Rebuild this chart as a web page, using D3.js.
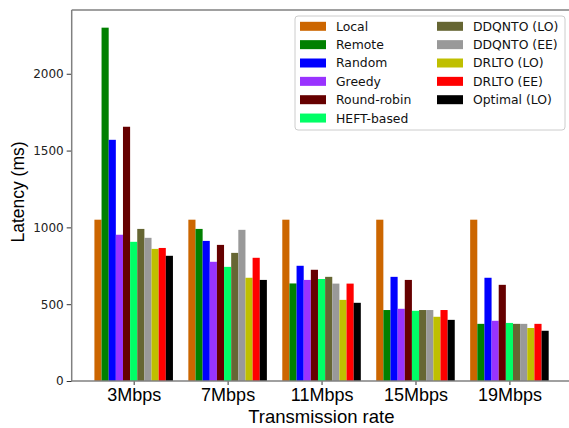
<!DOCTYPE html>
<html>
<head>
<meta charset="utf-8">
<script src="https://cdn.jsdelivr.net/npm/d3@7"></script>
<style>
  html, body { margin: 0; padding: 0; background: #fff; }
  svg { display: block; }
</style>
</head>
<body>
<svg id="chart" width="569" height="428"></svg>
<script>
const categories = ["3Mbps", "7Mbps", "11Mbps", "15Mbps", "19Mbps"];
const seriesNames = ["Local", "Remote", "Random", "Greedy", "Round-robin", "HEFT-based",
  "DDQNTO (LO)", "DDQNTO (EE)", "DRLTO (LO)", "DRLTO (EE)", "Optimal (LO)"];
const seriesColors = ["#cc6600", "#008000", "#0000ff", "#9933ff", "#660000", "#00ff66",
  "#666633", "#999999", "#bfbf00", "#ff0000", "#000000"];

const local      = [1050, 1050, 1050, 1050, 1050];
const remote     = [2300, 990, 635, 462, 372];
const random     = [1570, 912, 750, 678, 672];
const greedy     = [952, 776, 658, 470, 392];
const roundRobin = [1655, 886, 724, 658, 626];
const heft       = [906, 743, 664, 457, 378];
const ddqntoLO   = [990, 834, 678, 462, 372];
const ddqntoEE   = [932, 984, 634, 462, 372];
const drltoLO    = [860, 672, 528, 418, 345];
const drltoEE    = [866, 802, 634, 462, 372];
const optimalLO  = [815, 658, 509, 398, 327];
const seriesValues = [local, remote, random, greedy, roundRobin, heft,
  ddqntoLO, ddqntoEE, drltoLO, drltoEE, optimalLO];

const yTicks = [0, 500, 1000, 1500, 2000];
const yMax = 2415;
const barW = 0.076;

const svg = d3.select("#chart");
const mLeft = 71.7, mRight = 571.4, mTop = 10, mBottom = 381;

const nS = seriesNames.length;
const span = (categories.length - 1) + nS * barW;
const xMin = -nS * barW / 2 - 0.05 * span;
const xMax = (categories.length - 1) + nS * barW / 2 + 0.05 * span;

const x = d3.scaleLinear().domain([xMin, xMax]).range([mLeft, mRight]);
const y = d3.scaleLinear().domain([0, yMax]).range([mBottom, mTop]);

// bars
seriesNames.forEach((name, s) => {
  svg.append("g").selectAll("rect")
    .data(seriesValues[s])
    .join("rect")
    .attr("x", (d, i) => x(i + (s - (nS - 1) / 2) * barW - barW / 2))
    .attr("width", x(barW) - x(0))
    .attr("y", d => y(d))
    .attr("height", d => y(0) - y(d))
    .attr("fill", seriesColors[s]);
});

// y axis
const yAxis = d3.axisLeft(y).tickValues(yTicks).tickFormat(d3.format("d")).tickSize(5).tickPadding(3);
const gy = svg.append("g").attr("transform", `translate(${mLeft},0)`).call(yAxis);
gy.select(".domain").remove();
gy.selectAll(".tick line").attr("stroke", "#333").attr("stroke-width", 1);
gy.selectAll(".tick text").attr("font-family", "DejaVu Sans").attr("font-size", 12).attr("fill", "#222");

// x axis
const xAxis = d3.axisBottom(x).tickValues(d3.range(categories.length))
  .tickFormat(i => categories[i]).tickSize(4).tickPadding(3);
const gx = svg.append("g").attr("transform", `translate(0,${mBottom})`).call(xAxis);
gx.select(".domain").remove();
gx.selectAll(".tick line").attr("stroke", "#333").attr("stroke-width", 1);
gx.selectAll(".tick text").attr("font-family", "Liberation Sans").attr("font-size", 18).attr("fill", "#000");

// spines
const spine = svg.append("g").attr("stroke", "#808080").attr("stroke-width", 1.5).attr("fill", "none");
spine.append("line").attr("x1", mLeft).attr("x2", mLeft).attr("y1", mTop).attr("y2", mBottom);
spine.append("line").attr("x1", mLeft).attr("x2", mRight).attr("y1", mTop).attr("y2", mTop);
spine.append("line").attr("x1", mLeft).attr("x2", mRight).attr("y1", mBottom).attr("y2", mBottom);
spine.append("line").attr("x1", mRight).attr("x2", mRight).attr("y1", mTop).attr("y2", mBottom);

// axis labels
svg.append("text").attr("x", (mLeft + 569) / 2 + 1).attr("y", 423)
  .attr("text-anchor", "middle").attr("font-family", "Liberation Sans").attr("font-size", 18.5)
  .text("Transmission rate");
svg.append("text").attr("transform", `translate(24,192) rotate(-90)`)
  .attr("text-anchor", "middle").attr("font-family", "Liberation Sans").attr("font-size", 17.5)
  .text("Latency (ms)");

// legend
const lg = svg.append("g");
lg.append("rect").attr("x", 295).attr("y", 16).attr("width", 270).attr("height", 114)
  .attr("rx", 3).attr("fill", "#fff").attr("fill-opacity", 0.9).attr("stroke", "#cccccc").attr("stroke-width", 1);
seriesNames.forEach((name, s) => {
  const col = s < 6 ? 0 : 1;
  const row = s < 6 ? s : s - 6;
  const px = col === 0 ? 300 : 437;
  const cy = 26.3 + row * 18.35;
  lg.append("rect").attr("x", px).attr("y", cy - 4.5).attr("width", 26).attr("height", 9)
    .attr("fill", seriesColors[s]);
  lg.append("text").attr("x", px + 36).attr("y", cy).attr("dy", "0.36em")
    .attr("font-family", "DejaVu Sans").attr("font-size", 12.4).attr("fill", "#111")
    .text(name);
});
</script>
</body>
</html>
